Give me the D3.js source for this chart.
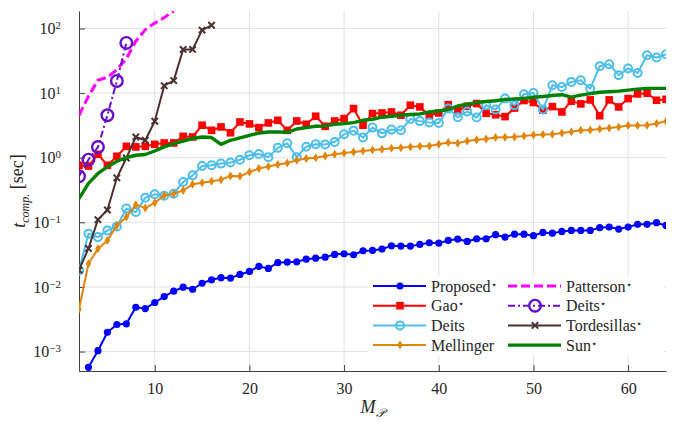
<!DOCTYPE html>
<html>
<head>
    <meta charset="utf-8">
    <title>Computation time vs M_P</title>
    <script src="https://cdnjs.cloudflare.com/ajax/libs/d3/7.8.5/d3.min.js"></script>
    <style>
        html, body {
            margin: 0;
            padding: 0;
            background: #ffffff;
        }
    </style>
</head>
<body>
    <div id="chart"></div>

    <script>
        const FONT = "'Liberation Serif', 'DejaVu Serif', serif";

        // x values (number of polygons M_P)
        const mValues = [2, 3, 4, 5, 6, 7, 8, 9, 10, 11, 12, 13, 14, 15, 16, 17, 18, 19, 20,
            21, 22, 23, 24, 25, 26, 27, 28, 29, 30, 31, 32, 33, 34, 35, 36, 37, 38, 39, 40,
            41, 42, 43, 44, 45, 46, 47, 48, 49, 50, 51, 52, 53, 54, 55, 56, 57, 58, 59, 60,
            61, 62, 63, 64];

        const xTicks = [10, 20, 30, 40, 50, 60];
        const yTickExps = [-3, -2, -1, 0, 1, 2];

        // computation times [sec]
        const proposed = [5.7e-4, 1.03e-3, 1.99e-3, 2.62e-3, 2.69e-3, 4.85e-3, 4.63e-3, 5.74e-3,
            7.1e-3, 8.6e-3, 9.9e-3, 9.2e-3, 1.14e-2, 1.29e-2, 1.39e-2, 1.37e-2, 1.56e-2, 1.74e-2,
            2.08e-2, 1.93e-2, 2.37e-2, 2.42e-2, 2.45e-2, 2.69e-2, 2.79e-2, 2.89e-2, 3.18e-2, 3.26e-2,
            3.15e-2, 3.63e-2, 3.67e-2, 3.85e-2, 4.34e-2, 4.28e-2, 4.28e-2, 4.55e-2, 4.83e-2, 4.75e-2,
            5.25e-2, 5.5e-2, 5.06e-2, 5.57e-2, 5.57e-2, 6.43e-2, 5.9e-2, 6.56e-2, 6.56e-2, 6.2e-2,
            6.98e-2, 6.8e-2, 7.23e-2, 7.5e-2, 7.5e-2, 7.5e-2, 8.26e-2, 8.44e-2, 7.85e-2, 8.44e-2,
            9.3e-2, 9.3e-2, 9.86e-2, 8.95e-2]; // from M = 3

        const gao = [0.762, 0.743, 1.13, 0.762, 1.05, 1.50, 1.47, 1.50, 1.61, 1.69, 1.69, 2.14,
            2.09, 3.18, 2.65, 2.99, 2.43, 3.57, 3.33, 2.92, 3.45, 3.79, 2.65, 3.70, 3.29, 4.38,
            3.06, 3.70, 4.03, 5.75, 3.18, 4.82, 4.92, 5.1, 4.54, 6.49, 6.1, 4.54, 4.92, 6.6,
            5.35, 6.25, 6.89, 4.87, 4.62, 4.32, 5.86, 7.67, 7.15, 5.42, 6.17, 5.1, 7.5, 6.8,
            7.84, 4.46, 7.84, 6.1, 8.22, 9.7, 9.95, 7.74, 8.0];

        const deits = [0.018, 0.0667, 0.059, 0.075, 0.0865, 0.163, 0.144, 0.24, 0.271, 0.258,
            0.277, 0.42, 0.533, 0.743, 0.762, 0.81, 0.84, 0.93, 1.09, 1.14, 1.02, 1.42, 1.67,
            1.02, 1.48, 1.61, 1.6, 1.75, 2.30, 2.62, 2.05, 2.92, 2.38, 2.72, 2.65, 3.96, 3.68,
            3.51, 3.45, 5.75, 4.22, 5.2, 4.18, 6.49, 5.56, 8.22, 6.49, 9.6, 10.05, 5.56, 13.2,
            12.4, 14.9, 15.8, 11.7, 26.1, 28.0, 18.9, 24.0, 20.5, 38.5, 35.6, 40.0];

        const mellinger = [4.52e-3, 0.0229, 0.039, 0.0525, 0.0895, 0.1205, 0.1875, 0.166, 0.201,
            0.261, 0.277, 0.312, 0.387, 0.411, 0.431, 0.457, 0.52, 0.514, 0.60, 0.678, 0.728,
            0.782, 0.828, 0.91, 0.968, 1.0, 1.06, 1.13, 1.18, 1.22, 1.27, 1.31, 1.35, 1.40, 1.43,
            1.47, 1.50, 1.52, 1.61, 1.72, 1.68, 1.81, 1.90, 1.95, 2.05, 2.07, 2.09, 2.17, 2.25,
            2.28, 2.30, 2.41, 2.53, 2.65, 2.69, 2.78, 2.89, 2.99, 3.14, 3.14, 3.18, 3.38, 3.66];

        const patterson = [4.54, 8.93, 15.8, 17.6, 23.0, 34.0, 63.5, 95.8, 121, 147, 185];

        const deitsStar = [0.515, 0.933, 1.46, 4.54, 15.4, 59.8];

        const tordesillas = [0.0182, 0.0394, 0.110, 0.155, 0.488, 0.99, 2.09, 1.86, 3.66, 13.0,
            15.6, 47.3, 47.3, 94.2, 112];

        const sun = [0.232, 0.40, 0.57, 0.72, 0.88, 1.0, 1.09, 1.12, 1.27, 1.47, 1.65, 1.81, 1.98,
            2.09, 2.05, 1.61, 1.86, 2.03, 2.22, 2.41, 2.50, 2.50, 2.47, 2.78, 2.92, 3.06, 3.10,
            3.29, 3.37, 3.49, 3.79, 3.93, 4.23, 4.38, 4.54, 4.65, 4.75, 5.1, 5.28, 5.56, 6.31,
            6.72, 7.13, 7.39, 7.60, 7.94, 8.09, 8.22, 8.63, 8.84, 9.16, 9.43, 8.63, 9.27, 9.78,
            10.3, 10.5, 10.7, 11.1, 11.5, 11.8, 11.8, 11.8];

        const width = 678, height = 422;
        const margin = { top: 11, right: 12, bottom: 51, left: 79 };
        const plotW = width - margin.left - margin.right;
        const plotH = height - margin.top - margin.bottom;

        function toPoints(startM, values) {
            const i0 = mValues.indexOf(startM);
            return values.map((t, i) => ({ m: mValues[i0 + i], t: t }));
        }

        const seriesList = [
            { name: 'Proposed', star: true, color: '#0000ff', data: toPoints(3, proposed), marker: 'dot', width: 2 },
            { name: 'Gao', star: true, color: '#ff0000', data: toPoints(2, gao), marker: 'square', width: 2 },
            { name: 'Deits', star: false, color: '#4dbeee', data: toPoints(2, deits), marker: 'ring', width: 2 },
            { name: 'Mellinger', star: false, color: '#e0860f', data: toPoints(2, mellinger), marker: 'diamond', width: 2 },
            { name: 'Patterson', star: true, color: '#ff00ff', data: toPoints(2, patterson), marker: null, width: 3, dash: '9,4' },
            { name: 'Deits', star: true, color: '#6610cc', data: toPoints(2, deitsStar), marker: 'bigring', width: 2, dash: '7,3,2,3' },
            { name: 'Tordesillas', star: true, color: '#4d3030', data: toPoints(2, tordesillas), marker: 'cross', width: 2 },
            { name: 'Sun', star: true, color: '#008000', data: toPoints(2, sun), marker: null, width: 3.4 }
        ];

        const svg = d3.select('#chart')
            .append('svg')
            .attr('width', width)
            .attr('height', height)
            .style('font-family', FONT);

        const g = svg.append('g')
            .attr('transform', `translate(${margin.left},${margin.top})`);

        const xScale = d3.scaleLinear()
            .domain([2, 64])
            .range([0, plotW]);

        const yScale = d3.scaleLog()
            .domain([5e-4, Math.pow(10, 2.27)])
            .range([plotH, 0]);

        svg.append('defs').append('clipPath')
            .attr('id', 'plot-clip')
            .append('rect')
            .attr('width', plotW)
            .attr('height', plotH);

        // grid
        g.append('g')
            .selectAll('line')
            .data(xTicks)
            .enter()
            .append('line')
            .attr('x1', d => xScale(d))
            .attr('x2', d => xScale(d))
            .attr('y1', 0)
            .attr('y2', plotH)
            .attr('stroke', '#e3e3e3')
            .attr('stroke-width', 1);

        g.append('g')
            .selectAll('line')
            .data(yTickExps)
            .enter()
            .append('line')
            .attr('x1', 0)
            .attr('x2', plotW)
            .attr('y1', d => yScale(Math.pow(10, d)))
            .attr('y2', d => yScale(Math.pow(10, d)))
            .attr('stroke', '#e3e3e3')
            .attr('stroke-width', 1);

        // axes, ticks pointing inwards
        const xAxis = d3.axisBottom(xScale)
            .tickValues(xTicks)
            .tickSizeInner(-6)
            .tickSizeOuter(0)
            .tickPadding(12)
            .tickFormat(d3.format('d'));

        const xg = g.append('g')
            .attr('transform', `translate(0,${plotH})`)
            .call(xAxis)
            .attr('font-family', FONT);
        xg.select('.domain').attr('stroke', '#404040');
        xg.selectAll('.tick line').attr('stroke', '#404040');
        xg.selectAll('.tick text')
            .style('font-size', '16px')
            .style('font-family', FONT)
            .attr('fill', '#262626');

        const yAxis = d3.axisLeft(yScale)
            .tickValues(yTickExps.map(e => Math.pow(10, e)))
            .tickSizeInner(-6)
            .tickSizeOuter(0)
            .tickFormat('');

        const yg = g.append('g').call(yAxis);
        yg.select('.domain').attr('stroke', '#404040');
        yg.selectAll('.tick line').attr('stroke', '#404040');

        // y tick labels as 10^n
        const yLab = g.append('g');
        yTickExps.forEach(e => {
            const t = yLab.append('text')
                .attr('x', -18)
                .attr('y', yScale(Math.pow(10, e)))
                .attr('dy', '0.35em')
                .attr('text-anchor', 'end')
                .attr('fill', '#262626')
                .style('font-family', FONT)
                .style('font-size', '16px');
            t.append('tspan').text('10');
            t.append('tspan')
                .attr('dy', '-0.45em')
                .style('font-size', '11px')
                .text(String(e).replace('-', '\u2212'));
        });

        // series
        const lineGen = d3.line()
            .x(d => xScale(d.m))
            .y(d => yScale(d.t));

        const plot = g.append('g').attr('clip-path', 'url(#plot-clip)');

        function drawMarkers(sel, s, pts) {
            if (s.marker === 'dot') {
                sel.selectAll('circle').data(pts).enter().append('circle')
                    .attr('cx', d => d.x).attr('cy', d => d.y).attr('r', 3.6)
                    .attr('fill', s.color);
            } else if (s.marker === 'square') {
                sel.selectAll('rect').data(pts).enter().append('rect')
                    .attr('x', d => d.x - 3.8).attr('y', d => d.y - 3.8)
                    .attr('width', 7.6).attr('height', 7.6)
                    .attr('fill', s.color);
            } else if (s.marker === 'ring') {
                sel.selectAll('circle').data(pts).enter().append('circle')
                    .attr('cx', d => d.x).attr('cy', d => d.y).attr('r', 4)
                    .attr('fill', 'none').attr('stroke', s.color).attr('stroke-width', 2);
            } else if (s.marker === 'bigring') {
                sel.selectAll('circle').data(pts).enter().append('circle')
                    .attr('cx', d => d.x).attr('cy', d => d.y).attr('r', 5.8)
                    .attr('fill', 'none').attr('stroke', s.color).attr('stroke-width', 2.4);
            } else if (s.marker === 'diamond') {
                sel.selectAll('path').data(pts).enter().append('path')
                    .attr('d', d => `M${d.x},${d.y - 4.5}L${d.x + 2.8},${d.y}L${d.x},${d.y + 4.5}L${d.x - 2.8},${d.y}Z`)
                    .attr('fill', s.color);
            } else if (s.marker === 'cross') {
                sel.selectAll('path').data(pts).enter().append('path')
                    .attr('d', d => `M${d.x - 3.2},${d.y - 3.2}L${d.x + 3.2},${d.y + 3.2}M${d.x - 3.2},${d.y + 3.2}L${d.x + 3.2},${d.y - 3.2}`)
                    .attr('stroke', s.color).attr('stroke-width', 2);
            }
        }

        seriesList.forEach(s => {
            const sg = plot.append('g');
            sg.append('path')
                .datum(s.data)
                .attr('d', lineGen)
                .attr('fill', 'none')
                .attr('stroke', s.color)
                .attr('stroke-width', s.width)
                .attr('stroke-linejoin', 'round')
                .attr('stroke-dasharray', s.dash || null);
            const pts = s.data.map(d => ({ x: xScale(d.m), y: yScale(d.t) }));
            drawMarkers(sg.append('g'), s, pts);
        });

        // legend, two columns
        const legend = g.append('g')
            .attr('transform', `translate(${368 - margin.left},${276 - margin.top})`);

        legend.append('rect')
            .attr('width', 296)
            .attr('height', 80)
            .attr('fill', '#ffffff');

        seriesList.forEach((s, i) => {
            const col = Math.floor(i / 4);
            const row = i % 4;
            const lx = 5 + col * 135;
            const ly = 10 + row * 19.7;
            const item = legend.append('g');
            item.append('line')
                .attr('x1', lx).attr('x2', lx + 53)
                .attr('y1', ly).attr('y2', ly)
                .attr('stroke', s.color)
                .attr('stroke-width', s.width)
                .attr('stroke-dasharray', s.dash || null);
            drawMarkers(item.append('g'), s, [{ x: lx + 27, y: ly }]);
            const t = item.append('text')
                .attr('x', lx + 58)
                .attr('y', ly)
                .attr('dy', '0.35em')
                .attr('fill', '#262626')
                .style('font-family', FONT)
                .style('font-size', '16px')
                .text(s.name);
            if (s.star) {
                t.append('tspan')
                    .attr('dy', '-0.4em')
                    .style('font-size', '10px')
                    .text('\u22c6');
            }
        });

        // axis labels
        const xl = svg.append('text')
            .attr('x', margin.left + plotW / 2)
            .attr('y', 413)
            .attr('text-anchor', 'middle')
            .attr('fill', '#262626')
            .style('font-family', FONT)
            .style('font-size', '18px');
        xl.append('tspan').style('font-style', 'italic').text('M');
        xl.append('tspan')
            .attr('dy', '0.3em')
            .style('font-size', '12px')
            .style('font-style', 'italic')
            .text('\ud835\udcab');

        const yl = svg.append('text')
            .attr('transform', `translate(25,${margin.top + plotH / 2}) rotate(-90)`)
            .attr('text-anchor', 'middle')
            .attr('fill', '#262626')
            .style('font-family', FONT)
            .style('font-size', '18px');
        yl.append('tspan').style('font-style', 'italic').text('t');
        yl.append('tspan')
            .attr('dy', '0.3em')
            .style('font-size', '12px')
            .style('font-style', 'italic')
            .text('comp.');
        yl.append('tspan')
            .attr('dy', '-0.3em')
            .text(' [sec]');
    </script>
</body>
</html>
